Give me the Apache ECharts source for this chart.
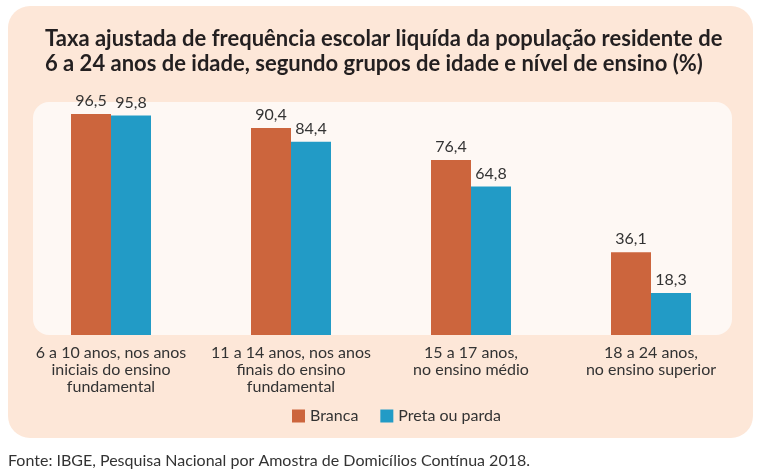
<!DOCTYPE html>
<html><head><meta charset="utf-8">
<script src="https://cdn.jsdelivr.net/npm/echarts@6/dist/echarts.min.js"></script>
<style>html,body{margin:0;padding:0;background:#fff}#c{width:768px;height:476px}</style>
</head><body><div id="c"></div>
<script>
const categories = [
  "6 a 10 anos, nos anos\niniciais do ensino\nfundamental",
  "11 a 14 anos, nos anos\nfinais do ensino\nfundamental",
  "15 a 17 anos,\nno ensino médio",
  "18 a 24 anos,\nno ensino superior"
];
const branca = [96.5, 90.4, 76.4, 36.1];
const pretaParda = [95.8, 84.4, 64.8, 18.3];
const seriesNames = ["Branca", "Preta ou parda"];
const titleText = "Taxa ajustada de frequência escolar liquída da população residente de\n6 a 24 anos de idade, segundo grupos de idade e nível de ensino (%)";
const sourceText = "Fonte: IBGE, Pesquisa Nacional por Amostra de Domicílios Contínua 2018.";

const FONT = "Lato";
const chart = echarts.init(document.getElementById('c'));
const fmt = p => p.value.toFixed(1).replace('.', ',');
chart.setOption({
  backgroundColor: '#ffffff',
  animation: false,
  graphic: [
    { type: 'rect', z: -10, shape: { x: 8, y: 6, width: 745, height: 432, r: 22 }, style: { fill: '#fde7d8' } },
    { type: 'rect', z: -9, shape: { x: 33, y: 102, width: 699, height: 233, r: 16 }, style: { fill: '#fef8f4' } },
    { type: 'text', left: 8, top: 453, style: { text: sourceText, font: '16px ' + FONT, fill: '#333' } }
  ],
  title: {
    text: titleText, left: 40, top: 21,
    textStyle: { fontFamily: FONT, fontWeight: 'bold', fontSize: 22, lineHeight: 25, color: '#231f20' }
  },
  legend: {
    data: seriesNames, top: 403, left: 287, itemWidth: 13, itemHeight: 13, itemGap: 22,
    icon: 'rect',
    textStyle: { fontFamily: FONT, fontSize: 16, color: '#333' }
  },
  grid: { left: 21, width: 720, top: 106, height: 229 },
  xAxis: {
    type: 'category', data: categories,
    axisLine: { show: false }, axisTick: { show: false },
    axisLabel: { fontFamily: FONT, fontSize: 16, color: '#333', lineHeight: 17, margin: 9, interval: 0 }
  },
  yAxis: { type: 'value', min: 0, max: 100, show: false, splitLine: { show: false } },
  series: [
    { name: seriesNames[0], type: 'bar', data: branca, barWidth: 40, barGap: '0%',
      itemStyle: { color: '#cc653d' },
      label: { show: true, position: 'top', distance: 5, formatter: fmt, fontFamily: FONT, fontSize: 16, color: '#333' } },
    { name: seriesNames[1], type: 'bar', data: pretaParda, barWidth: 40,
      itemStyle: { color: '#229bc6' },
      label: { show: true, position: 'top', distance: 5, formatter: fmt, fontFamily: FONT, fontSize: 16, color: '#333' } }
  ]
});
</script></body></html>
